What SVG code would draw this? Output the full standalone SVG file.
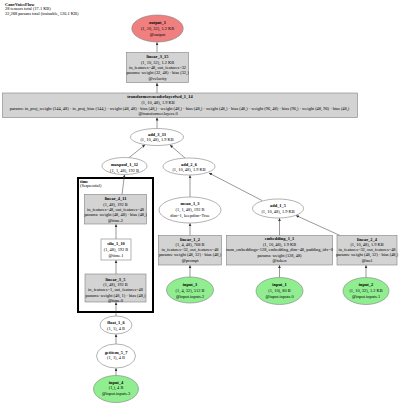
<svg xmlns="http://www.w3.org/2000/svg" width="400" height="403" viewBox="0 0 400 403">
<defs>
<marker id="ah" markerWidth="3" markerHeight="3" refX="3" refY="1.5" orient="auto" markerUnits="userSpaceOnUse">
<path d="M0,0 L3,1.5 L0,3 Z" fill="#333"/>
</marker>
<style>
text{font-family:"Liberation Serif","Times New Roman",serif;font-size:4.4px;fill:#000;text-anchor:middle}
.b{font-weight:bold}
.l{text-anchor:start}
.box{fill:#d3d3d3;stroke:#808080;stroke-width:0.6}
.wbox{fill:#fff;stroke:#808080;stroke-width:0.6}
.ell{fill:#fff;stroke:#808080;stroke-width:0.6}
.in{fill:#90ee90;stroke:#808080;stroke-width:0.6}
.out{fill:#f08080;stroke:#808080;stroke-width:0.6}
.e{stroke:#333;stroke-width:0.5;fill:none;marker-end:url(#ah)}
.cl{fill:none;stroke:#000;stroke-width:2}
</style>
</defs>
<rect width="400" height="403" fill="#fff"/>
<g id="title">
<text class="b l" x="5" y="5.5">ConvVoiceFlow</text>
<text class="l" x="5" y="10">28 tensors total (17.1 KB)</text>
<text class="l" x="5" y="14.5">32,288 params total (trainable, 126.1 KB)</text>
</g>
<g id="cluster_time">
<rect class="cl" x="78" y="178" width="75" height="134"/>
<text class="b l" x="80" y="182.5">time</text>
<text class="l" x="80" y="187">(Sequential)</text>
</g>
<g id="edges">
<line class="e" x1="157" y1="52.5" x2="157" y2="42.3"/>
<line class="e" x1="157" y1="93" x2="157" y2="83"/>
<line class="e" x1="157" y1="128.5" x2="157" y2="117.5"/>
<line class="e" x1="129" y1="157.7" x2="145" y2="144.8"/>
<line class="e" x1="185" y1="158" x2="170" y2="145"/>
<line class="e" x1="122" y1="194.5" x2="124.5" y2="174.7"/>
<line class="e" x1="190" y1="197" x2="190" y2="175.2"/>
<line class="e" x1="262" y1="200.5" x2="209" y2="173"/>
<line class="e" x1="190" y1="235.5" x2="190" y2="223.2"/>
<line class="e" x1="279.5" y1="235.5" x2="279.5" y2="218.2"/>
<line class="e" x1="340" y1="235.5" x2="296" y2="215.5"/>
<line class="e" x1="116" y1="239" x2="116" y2="224.2"/>
<line class="e" x1="116" y1="274" x2="116" y2="260.2"/>
<line class="e" x1="116" y1="316" x2="116" y2="302.2"/>
<line class="e" x1="116" y1="344" x2="116" y2="334.2"/>
<line class="e" x1="116" y1="375.5" x2="116" y2="368.2"/>
<line class="e" x1="190" y1="277" x2="190" y2="265.2"/>
<line class="e" x1="279.5" y1="277.5" x2="279.5" y2="265.2"/>
<line class="e" x1="366" y1="277.5" x2="366" y2="265.2"/>
</g>
<g id="output_1">
<ellipse class="out" cx="157.5" cy="28.5" rx="25.7" ry="13.5"/>
<text class="b" x="157.5" y="24.2">output_1</text>
<text x="157.5" y="30.2">(1, 10, 32), 1.2 KB</text>
<text x="157.5" y="35.8">@output</text>
</g>
<g id="linear_3_15">
<rect class="box" x="126.5" y="52.5" width="62" height="30"/>
<text class="b" x="157.5" y="57.8">linear_3_15</text>
<text x="157.5" y="63.5">(1, 10, 32), 1.2 KB</text>
<text x="157.5" y="68.8">in_features=48, out_features=32</text>
<text x="157.5" y="74.2">params: weight (32, 48) · bias (32,)</text>
<text x="157.5" y="80.2">@velocity</text>
</g>
<g id="transformerencoderlayerfwd_1_14">
<rect class="box" x="2.5" y="93" width="355" height="24.5"/>
<text class="b" x="160" y="98.2">transformerencoderlayerfwd_1_14</text>
<text x="158" y="103.8">(1, 10, 48), 1.9 KB</text>
<text x="179.5" y="109.8">params: in_proj_weight (144, 48) · in_proj_bias (144,) · weight (48, 48) · bias (48,) · weight (48,) · bias (48,) · weight (48,) · bias (48,) · weight (96, 48) · bias (96,) · weight (48, 96) · bias (48,)</text>
<text x="158" y="114.8">@transformer.layers.0</text>
</g>
<g id="add_3_13">
<ellipse class="ell" cx="157" cy="137" rx="26.5" ry="8.5"/>
<text class="b" x="157" y="135.5">add_3_13</text>
<text x="157" y="141">(1, 10, 48), 1.9 KB</text>
</g>
<g id="maxpool_1_12">
<ellipse class="ell" cx="124.5" cy="166" rx="22.5" ry="8.5"/>
<text class="b" x="124.5" y="165.5">maxpool_1_12</text>
<text x="124.5" y="171.5">(1, 1, 48), 192 B</text>
</g>
<g id="add_2_6">
<ellipse class="ell" cx="189" cy="166.5" rx="26" ry="8.5"/>
<text class="b" x="189" y="165.5">add_2_6</text>
<text x="189" y="171">(1, 10, 48), 1.9 KB</text>
</g>
<g id="mean_1_3">
<ellipse class="ell" cx="190" cy="210" rx="31" ry="13"/>
<text class="b" x="190" y="204.5">mean_1_3</text>
<text x="190" y="210.5">(1, 1, 48), 192 B</text>
<text x="190" y="216.5">dim=1, keepdim=True</text>
</g>
<g id="add_1_5">
<ellipse class="ell" cx="278" cy="208.5" rx="25.5" ry="9.5"/>
<text class="b" x="278" y="207">add_1_5</text>
<text x="278" y="213">(1, 10, 48), 1.9 KB</text>
</g>
<g id="linear_4_11">
<rect class="box" x="84.5" y="194.5" width="62" height="29.5"/>
<text class="b" x="115.5" y="199.5">linear_4_11</text>
<text x="115.5" y="205.5">(1, 48), 192 B</text>
<text x="115.5" y="210.5">in_features=48, out_features=48</text>
<text x="115.5" y="216">params: weight (48, 48) · bias (48,)</text>
<text x="115.5" y="221.5">@time.2</text>
</g>
<g id="silu_1_10">
<rect class="wbox" x="101" y="239" width="30" height="21"/>
<text class="b" x="116" y="244.5">silu_1_10</text>
<text x="116" y="250.5">(1, 48), 192 B</text>
<text x="116" y="256.5">@time.1</text>
</g>
<g id="linear_3_5">
<rect class="box" x="85" y="274" width="61" height="28"/>
<text class="b" x="115.5" y="280.5">linear_3_5</text>
<text x="115.5" y="285.5">(1, 48), 192 B</text>
<text x="115.5" y="291">in_features=1, out_features=48</text>
<text x="115.5" y="296.5">params: weight (48, 1) · bias (48,)</text>
<text x="115.5" y="301.5">@time.0</text>
</g>
<g id="float_1_6">
<ellipse class="ell" cx="116" cy="325" rx="16" ry="9"/>
<text class="b" x="116" y="323.5">float_1_6</text>
<text x="116" y="329.5">(1, 1), 4 B</text>
</g>
<g id="getitem_5_7">
<ellipse class="ell" cx="116" cy="356" rx="19.5" ry="12"/>
<text class="b" x="116" y="353.5">getitem_5_7</text>
<text x="116" y="358.5">(1, 1), 4 B</text>
</g>
<g id="input_4">
<ellipse class="in" cx="116" cy="389" rx="22.5" ry="13.5"/>
<text class="b" x="116" y="383.5">input_4</text>
<text x="116" y="389">(1,), 4 B</text>
<text x="116" y="394.5">@input.inputs.3</text>
</g>
<g id="linear_1_2">
<rect class="box" x="158.5" y="235.5" width="63" height="29.5"/>
<text class="b" x="190" y="240.5">linear_1_2</text>
<text x="190" y="245.5">(1, 4, 48), 768 B</text>
<text x="190" y="250.5">in_features=32, out_features=48</text>
<text x="190" y="256">params: weight (48, 32) · bias (48,)</text>
<text x="190" y="261.5">@prompt</text>
</g>
<g id="input_3">
<ellipse class="in" cx="190" cy="290" rx="23.5" ry="13"/>
<text class="b" x="190" y="285.5">input_3</text>
<text x="190" y="291.5">(1, 4, 32), 512 B</text>
<text x="190" y="297.5">@input.inputs.2</text>
</g>
<g id="embedding_1_1">
<rect class="box" x="226.5" y="235.5" width="106" height="29.5"/>
<text class="b" x="279.5" y="240">embedding_1_1</text>
<text x="279.5" y="245.5">(1, 10, 48), 1.9 KB</text>
<text x="279.5" y="251">num_embeddings=128, embedding_dim=48, padding_idx=0</text>
<text x="279.5" y="256.5">params: weight (128, 48)</text>
<text x="279.5" y="262">@token</text>
</g>
<g id="linear_2_4">
<rect class="box" x="337" y="235.5" width="60" height="29.5"/>
<text class="b" x="367" y="240.5">linear_2_4</text>
<text x="367" y="245.5">(1, 10, 48), 1.9 KB</text>
<text x="367" y="250.5">in_features=32, out_features=48</text>
<text x="367" y="256">params: weight (48, 32) · bias (48,)</text>
<text x="367" y="261.5">@mel</text>
</g>
<g id="input_1">
<ellipse class="in" cx="279.5" cy="291" rx="23.5" ry="13.5"/>
<text class="b" x="279.5" y="285.5">input_1</text>
<text x="279.5" y="291.5">(1, 10), 80 B</text>
<text x="279.5" y="297.5">@input.inputs.0</text>
</g>
<g id="input_2">
<ellipse class="in" cx="366" cy="291" rx="23" ry="13.5"/>
<text class="b" x="366" y="285.5">input_2</text>
<text x="366" y="291.5">(1, 10, 32), 1.2 KB</text>
<text x="366" y="297.5">@input.inputs.1</text>
</g>
</svg>
